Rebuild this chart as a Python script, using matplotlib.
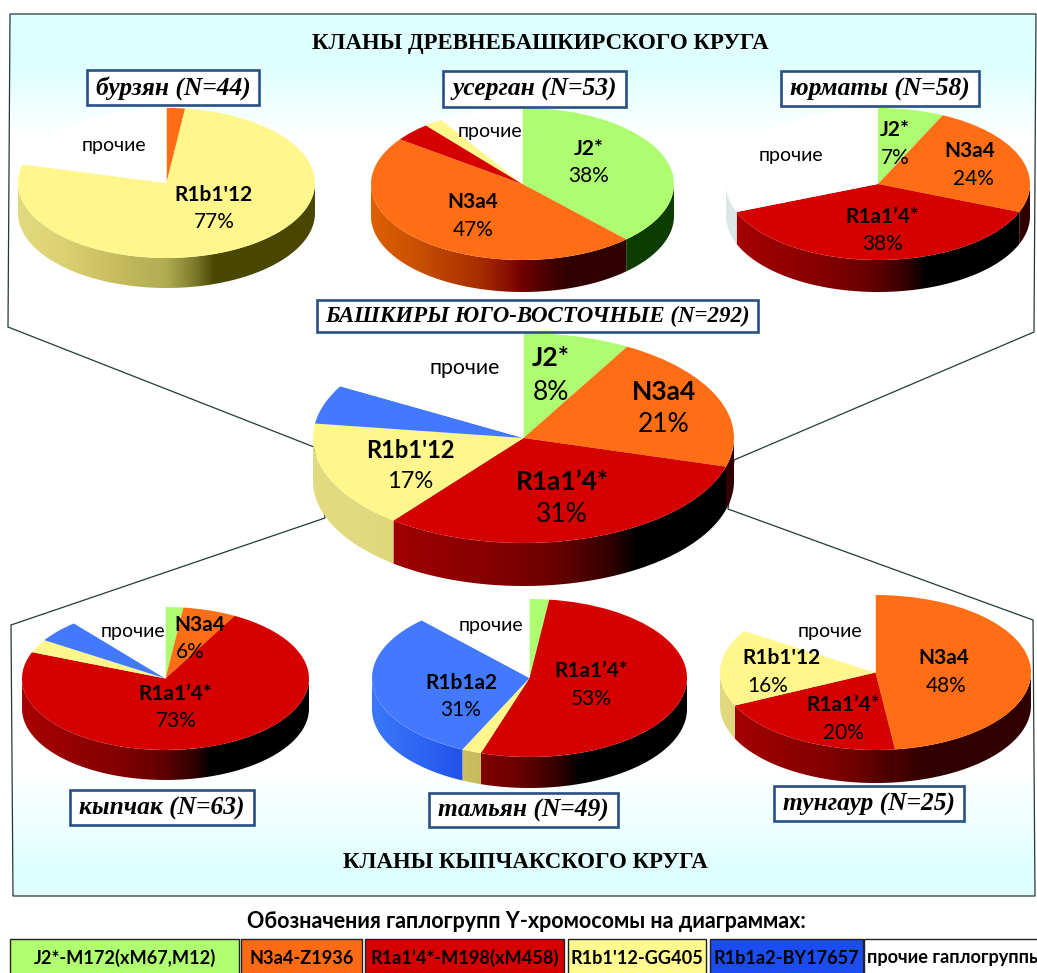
import numpy as np
import matplotlib
matplotlib.use("Agg")
import matplotlib.pyplot as plt
from matplotlib.patches import Polygon, Rectangle
from matplotlib.colors import to_rgb

W, H = 1037, 973

# ---------- data ----------
haplogroups = ["J2*", "N3a4", "R1a1’4*", "R1b1'12", "R1b1a2", "прочие"]
burzyan = [0, 2, 0, 77, 0, 21]
usergan = [38, 47, 4, 2, 0, 9]
yurmaty = [7, 24, 38, 0, 0, 31]
southeast = [8.2, 21.2, 31.2, 16.6, 6, 16.8]
kypchak = [2, 6, 73, 3, 5, 11]
tamyan = [2, 0, 53, 2, 31, 12]
tungaur = [0, 48, 20, 16, 0, 16]
legend_labels = ["J2*-M172(xM67,M12)", "N3a4-Z1936", "R1a1’4*-M198(xM458)",
                 "R1b1'12-GG405", "R1b1a2-BY17657", "прочие гаплогруппы"]
clan_titles = ["бурзян (N=44)", "усерган (N=53)", "юрматы (N=58)",
               "БАШКИРЫ ЮГО-ВОСТОЧНЫЕ (N=292)", "кыпчак (N=63)",
               "тамьян (N=49)", "тунгаур (N=25)"]

# ---------- styles ----------
top_colors = ["#AEFC6F", "#FF6D14", "#D50000", "#FFF68C", "#4279FF", "#FFFFFF"]
legend_colors = ["#B0FF70", "#FF6A14", "#D50000", "#FFFA8F", "#1A4CF0", "#FFFFFF"]
side_x = [-1, -0.7, -0.3, -0.1, 0.0, 0.2, 0.32, 1]
side_stops = [
    ["#A0D868", "#80C050", "#508020", "#306010", "#205000", "#0C3C00", "#0C3C00", "#0C3C00"],
    ["#E06000", "#C85000", "#A83000", "#8A1000", "#700000", "#400000", "#300000", "#300000"],
    ["#A80000", "#980000", "#800000", "#6C0000", "#5C0000", "#300000", "#000000", "#000000"],
    ["#E2DA80", "#DCD272", "#C4BA5C", "#B8B058", "#B0AC50", "#7A7828", "#4A4800", "#484600"],
    ["#3A78F8", "#2E66F4", "#1C48E0", "#1840D0", "#1438B8", "#102C90", "#0C2070", "#0C2070"],
    ["#DFE8E8", "#D8E2E2", "#C8D0D0", "#B8C0C0", "#B0B8B8", "#808888", "#505858", "#505858"],
]

# pie geometry in pixels: cx, cy, rx, ry, depth, gradient shift
geometry = {
    "burzyan": (166.5, 183, 148.5, 75, 30, 0),
    "usergan": (522.5, 184, 151.5, 76, 32, 0),
    "yurmaty": (878, 184, 152, 76, 32, 0),
    "southeast": (523.5, 438, 210.5, 105, 43, 0.22),
    "kypchak": (165.5, 678.5, 143.5, 71.5, 30, 0),
    "tamyan": (529.5, 678, 157.5, 79, 31, 0),
    "tungaur": (875.5, 672.5, 155.5, 77.5, 33, 0),
}

fig = plt.figure(figsize=(W / 100, H / 100), dpi=100, facecolor="white")

# ---------- background panel ----------
bg = fig.add_axes([0, 0, 1, 1], zorder=0)
bg.set_xlim(0, W)
bg.set_ylim(H, 0)
bg.axis("off")
panel = [(10, 14), (1036, 14), (1034, 332), (734, 460), (728, 509), (1033, 620),
         (1035, 896), (13, 896), (11, 625), (325, 518), (314, 447), (8, 327)]
ys = np.arange(H)
grad_y = [14, 70, 135, 770, 870, 896]
grad_c = np.array([to_rgb(c) for c in ["#DFFFFF", "#DFFFFF", "#FFFFFF", "#FFFFFF", "#DFFFFF", "#DFFFFF"]])
img = np.stack([np.interp(ys, grad_y, grad_c[:, i]) for i in range(3)], axis=1)[:, None, :]
poly = Polygon(panel, closed=True, facecolor="none", edgecolor="#26383A", linewidth=0.9, zorder=3)
bg.add_patch(poly)
im = bg.imshow(img, extent=(0, W, H, 0), aspect="auto", zorder=1)
im.set_clip_path(poly)
bg.set_xlim(0, W)
bg.set_ylim(H, 0)


def draw_pie(values, geom, z):
    cx, cy, rx, ry, d, shift = geom
    ax = fig.add_axes([(cx - rx) / W, 1 - (cy + ry + d) / H, 2 * rx / W, (2 * ry + d) / H],
                      zorder=z)
    wedges, _ = ax.pie(values, colors=top_colors, startangle=90, counterclock=False, radius=1,
                       wedgeprops=dict(linewidth=0))
    for w in wedges:
        w.set_clip_on(False)
        w.set_zorder(5)
    dz = d / ry
    ax.set_aspect("auto")
    ax.set_xlim(-1, 1)
    ax.set_ylim(-1 - dz, 1)
    xs = np.linspace(-1, 1, 400)
    edges = np.cumsum([0] + list(values)) / sum(values) * 2 * np.pi
    for i, val in enumerate(values):
        a0, a1 = max(edges[i], np.pi / 2), min(edges[i + 1], 3 * np.pi / 2)
        if val == 0 or a1 <= a0:
            continue
        t_ = np.linspace(a0, a1, 80)
        upper = np.column_stack([np.sin(t_), np.cos(t_)])
        lower = upper[::-1] - [0, dz]
        clip = Polygon(np.vstack([upper, lower]), closed=True, transform=ax.transData,
                       facecolor="none", edgecolor="none")
        ax.add_patch(clip)
        stops = np.array([to_rgb(c) for c in side_stops[i]])
        row = np.stack([np.interp(xs - shift, side_x, stops[:, k]) for k in range(3)], axis=1)[None, :, :]
        g = ax.imshow(row, extent=(-1, 1, -1 - dz, 1), aspect="auto", zorder=2, interpolation="bilinear")
        g.set_clip_path(clip)
    ax.set_aspect("auto")
    ax.set_xlim(-1, 1)
    ax.set_ylim(-1 - dz, 1)
    ax.axis("off")
    ax.patch.set_alpha(0)


draw_pie(southeast, geometry["southeast"], 1)
draw_pie(burzyan, geometry["burzyan"], 2)
draw_pie(usergan, geometry["usergan"], 2)
draw_pie(yurmaty, geometry["yurmaty"], 2)
draw_pie(kypchak, geometry["kypchak"], 2)
draw_pie(tamyan, geometry["tamyan"], 2)
draw_pie(tungaur, geometry["tungaur"], 2)

# ---------- overlay: texts and boxes ----------
ov = fig.add_axes([0, 0, 1, 1], zorder=10)
ov.set_xlim(0, W)
ov.set_ylim(H, 0)
ov.axis("off")
ov.patch.set_alpha(0)
SANS = ["Lato", "Open Sans", "DejaVu Sans"]
SERIF = ["Liberation Serif", "DejaVu Serif"]


def t(x, y, s, size=14, weight="normal", style="normal", fam=SANS, ha="center"):
    ov.text(x, y, s, fontsize=size, fontweight=weight, fontstyle=style, family=fam,
            ha=ha, va="center", color="black", clip_on=False)


def pair(x, y, idx, val, x2=None, y2=None, size=15):
    t(x, y + 1, haplogroups[idx], size=size, weight="bold")
    t(x if x2 is None else x2, y2 + 1, f"{round(val)}%", size=size)


t(540, 43, "КЛАНЫ ДРЕВНЕБАШКИРСКОГО КРУГА", size=16.5, weight="bold", fam=SERIF)
t(525, 863, "КЛАНЫ КЫПЧАКСКОГО КРУГА", size=16.5, weight="bold", fam=SERIF)

boxes = [(87, 70, 259, 105), (443, 71, 626, 107), (781, 71, 979, 106), (317, 300, 758, 332),
         (70, 790, 254, 825), (429, 793, 618, 827), (774, 786, 964, 821)]
for (x0, y0, x1, y1), title in zip(boxes, clan_titles):
    ov.add_patch(Rectangle((x0, y0), x1 - x0, y1 - y0, facecolor="white", edgecolor="#2A4F85", linewidth=1.9))
    t((x0 + x1) / 2, (y0 + y1) / 2 + 0.5, title, size=18.4 if len(title) < 20 else 16.5,
      weight="bold", style="italic", fam=SERIF)

# burzyan
pair(214, 194, 3, burzyan[3], y2=221)
t(114, 145, haplogroups[5])
# usergan
pair(589, 148, 0, usergan[0], y2=175)
pair(473, 201, 1, usergan[1], y2=229)
t(490, 131, haplogroups[5])
# yurmaty
pair(895, 129, 0, yurmaty[0], y2=157)
pair(970, 150, 1, yurmaty[1], x2=973, y2=178)
pair(882, 216, 2, yurmaty[2], x2=883, y2=243)
t(791, 156, haplogroups[5])
# southeast
pair(551, 357, 0, southeast[0], y2=391, size=19)
pair(664, 391, 1, southeast[1], y2=424, size=19)
pair(562, 481, 2, southeast[2], y2=514, size=19)
pair(410, 450, 3, southeast[3], y2=481, size=17)
t(465, 368, haplogroups[5], size=15.3)
# kypchak
pair(200, 624, 1, kypchak[1], x2=190, y2=651)
pair(175, 693, 2, kypchak[2], x2=176, y2=720)
t(133, 632, haplogroups[5])
# tamyan
pair(461, 682, 4, tamyan[4], y2=709)
pair(591, 670, 2, tamyan[2], y2=698)
t(491, 625, haplogroups[5])
# tungaur
pair(781, 657, 3, tungaur[3], x2=768, y2=685)
pair(843, 704, 2, tungaur[2], y2=732)
pair(944, 657, 1, tungaur[1], x2=946, y2=685)
t(830, 631, haplogroups[5])

# ---------- legend ----------
t(526, 922, "Обозначения гаплогрупп Y-хромосомы на диаграммах:", size=15.5, weight="bold")
leg_x = [(10, 239), (241, 362), (365, 564), (568, 706), (710, 863), (864, 1045)]
for (x0, x1), c, lab in zip(leg_x, legend_colors, legend_labels):
    ov.add_patch(Rectangle((x0, 939), x1 - x0, 40, facecolor=c, edgecolor="#222222", linewidth=1, clip_on=True))
    t((x0 + x1) / 2, 958, lab, size=13.1, weight="bold")

fig.savefig("out.png", dpi=100, facecolor="white")
